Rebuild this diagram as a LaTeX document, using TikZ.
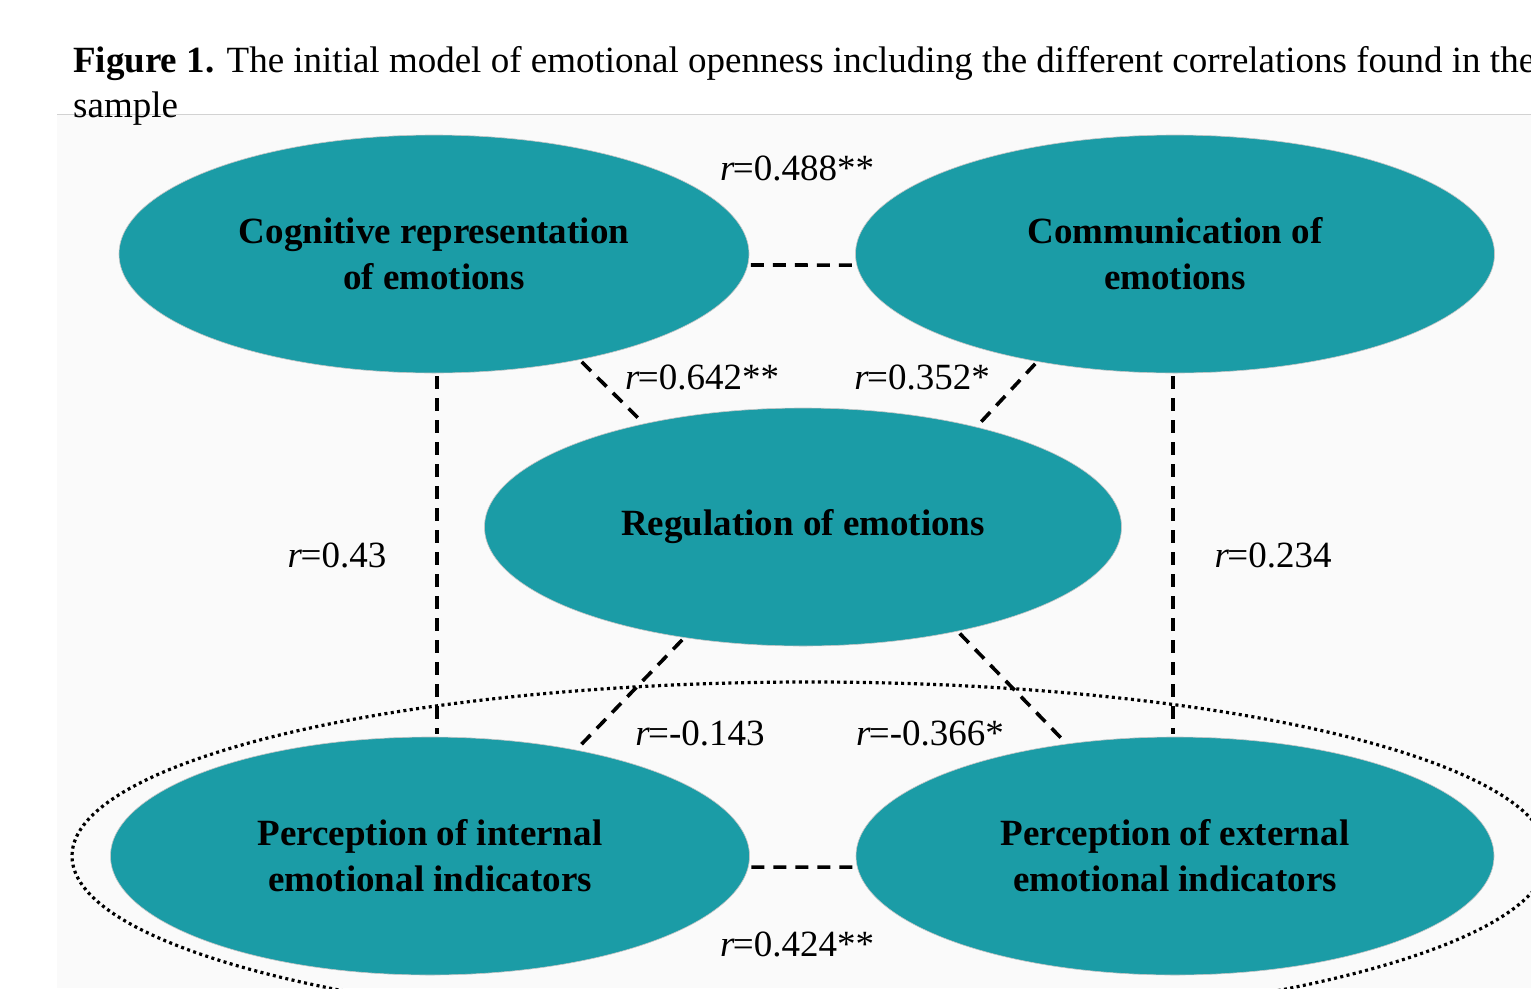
\documentclass[tikz,border=0pt]{standalone}
\usepackage{fontspec}
\setmainfont{Liberation Serif}
\usetikzlibrary{shapes.geometric,calc}
\definecolor{tealfill}{RGB}{27,156,166}
\definecolor{bgpanel}{RGB}{250,250,250}
\tikzset{
  factor/.style={ellipse, fill=tealfill, draw=gray!45, line width=0.6pt, inner sep=0pt,
    minimum width=#1, minimum height=238pt, align=center,
    font=\fontsize{37}{46}\selectfont\bfseries},
  conn/.style={line width=3.6pt, dash pattern=on 13pt off 9pt, shorten <=3pt, shorten >=3pt},
  dotring/.style={line width=3.2pt, dash pattern=on 3pt off 3.4pt},
  corr/.style={anchor=base, font=\fontsize{37}{44}\selectfont, inner sep=0pt},
  captxt/.style={anchor=base west, font=\fontsize{37}{45}\selectfont, inner sep=0pt}
}
\newcommand{\rr}{{\itshape r}\kern-1.5pt=}
\begin{document}
\begin{tikzpicture}[x=1pt,y=-1pt]
\useasboundingbox (0,0) rectangle (1531,988);
\fill[white] (0,0) rectangle (1531,988);
\fill[bgpanel] (57,114) rectangle (1531,988);
\draw[gray!35, line width=1pt] (57,114) -- (1531,114);

\node[captxt] (cap1) at (73,72) {\textbf{Figure 1.} The initial model of emotional openness including the different correlations found in the};
\node[captxt] (cap2) at (73,117) {sample};

\draw[dotring] (810,856) ellipse [x radius=738, y radius=174];

\node[factor=630pt] (cog)  at (434,254) {Cognitive representation\\of emotions};
\node[factor=639pt] (comm) at (1175,254) {Communication of\\emotions};
\node[factor=637pt] (reg)  at (803,527) {\raisebox{7pt}{Regulation of emotions}};
\node[factor=639pt] (pint) at (430,856) {Perception of internal\\emotional indicators};
\node[factor=638pt] (pext) at (1175,856) {Perception of external\\emotional indicators};

\coordinate (vl) at (437,0);
\coordinate (vr) at (1173,0);
\draw[conn] (cog.-2.4) -- (comm.182.3);
\draw[conn] (cog.-36) -- (reg.147.5);
\draw[conn] (comm.218.4) -- (reg.30.7);
\draw[conn] (reg.223.6) -- (pint.36.3);
\draw[conn] (reg.-34.6) -- (pext.134.7);
\draw[conn] (pint.-2.3) -- (pext.182.3);
\draw[conn] (cog.south -| vl) -- (pint.north -| vl);
\draw[conn] (comm.south -| vr) -- (pext.north -| vr);

\node[corr] (l488) at (797,180) {\rr0.488**};
\node[corr] (l642) at (702,389) {\rr0.642**};
\node[corr] (l352) at (922,389) {\rr0.352*};
\node[corr] (l43)  at (337,567) {\rr0.43};
\node[corr] (l234) at (1273,567) {\rr0.234};
\node[corr] (l143) at (700,745) {\rr-0.143};
\node[corr] (l366) at (930,745) {\rr-0.366*};
\node[corr] (l424) at (797,956) {\rr0.424**};
\end{tikzpicture}
\end{document}
